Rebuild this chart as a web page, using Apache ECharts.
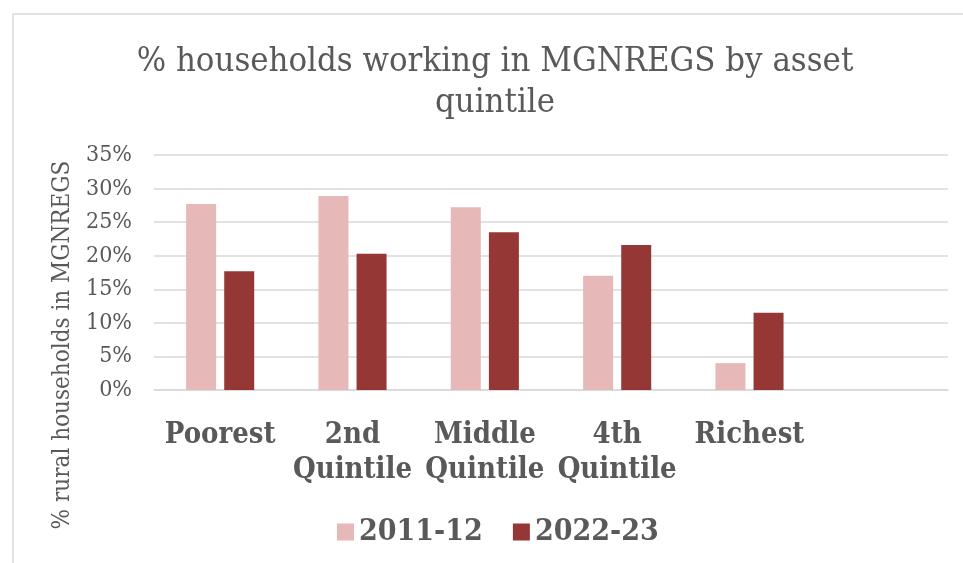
<!DOCTYPE html>
<html>
<head>
<meta charset="utf-8">
<script src="https://cdn.jsdelivr.net/npm/echarts@6/dist/echarts.min.js"></script>
<style>html,body{margin:0;padding:0;background:#fff}#c{width:963px;height:563px}</style>
</head>
<body>
<div id="c"></div>
<script>
var categories = ['Poorest', '2nd\nQuintile', 'Middle\nQuintile', '4th\nQuintile', 'Richest', ''];
var series2011 = [27.7, 28.9, 27.2, 17.0, 4.0, null];
var series2022 = [17.7, 20.3, 23.5, 21.6, 11.5, null];
var yTicks = { min: 0, max: 35, interval: 5 };
var FONT = '"DejaVu Serif Condensed", "DejaVu Serif", serif';
var chart = echarts.init(document.getElementById('c'));
chart.setOption({
  animation: false,
  title: {
    text: '% households working in MGNREGS by asset\nquintile',
    left: 490, top: 37, textAlign: 'center',
    textStyle: { fontFamily: FONT, fontWeight: 'normal', fontSize: 34.4, color: '#595959', lineHeight: 41 }
  },
  graphic: [
    { type: 'rect', shape: { x: 13, y: 14, width: 980, height: 600 }, style: { fill: 'none', stroke: '#d9d9d9', lineWidth: 1.5 } },
    { type: 'text', x: 63, y: 345, rotation: Math.PI / 2,
      style: { text: '% rural households in MGNREGS', fontFamily: FONT, fontSize: 24, fill: '#595959', align: 'center', verticalAlign: 'middle' } }
  ],
  legend: {
    top: 517, left: 337, padding: 0, itemWidth: 17, itemHeight: 17, itemGap: 30, icon: 'rect',
    textStyle: { fontFamily: FONT, fontWeight: 'bold', fontSize: 30, color: '#595959' },
    data: ['2011-12', '2022-23']
  },
  grid: { left: 154, right: 15, top: 155, bottom: 173 },
  xAxis: {
    type: 'category', data: categories,
    axisLine: { lineStyle: { color: '#d9d9d9', width: 1.5 } },
    axisTick: { show: false },
    axisLabel: { interval: 0, margin: 28, fontFamily: FONT, fontWeight: 'bold', fontSize: 29, color: '#595959', lineHeight: 35 }
  },
  yAxis: {
    type: 'value', min: yTicks.min, max: yTicks.max, interval: yTicks.interval,
    axisLabel: { formatter: '{value}%', fontFamily: FONT, fontSize: 23, color: '#595959', margin: 22 },
    splitLine: { lineStyle: { color: '#d9d9d9', width: 1.5 } },
    axisLine: { show: false }, axisTick: { show: false }
  },
  series: [
    { name: '2011-12', type: 'bar', data: series2011, barWidth: 30, barGap: '27%', itemStyle: { color: '#E6B8B7' } },
    { name: '2022-23', type: 'bar', data: series2022, barWidth: 30, itemStyle: { color: '#953735' } }
  ]
});
</script>
</body>
</html>
